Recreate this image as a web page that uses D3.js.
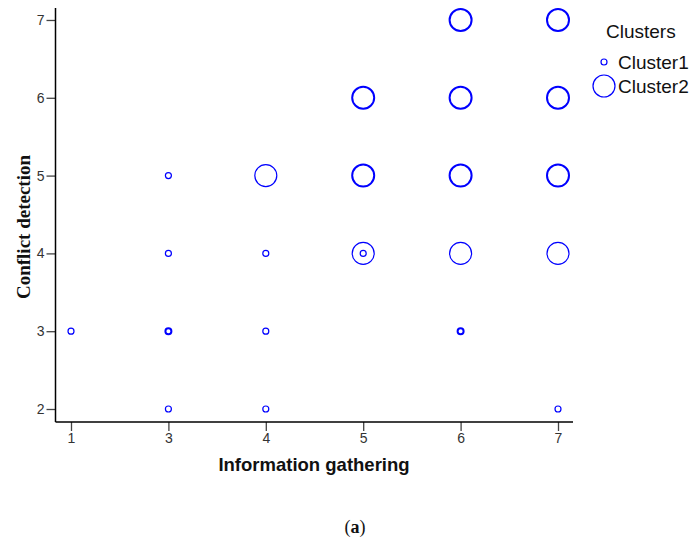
<!DOCTYPE html>
<html><head><meta charset="utf-8">
<script src="https://cdn.jsdelivr.net/npm/d3@7"></script>
<style>body{margin:0;background:#fff}</style>
</head><body>
<svg id="c" width="694" height="546"></svg>
<script>
const xCategories = ["1","3","4","5","6","7"];
const yTicks = [2,3,4,5,6,7];
const clusterNames = ["Cluster1","Cluster2"];
// points: x category, y value, count of overlapping observations
const cluster1X = ["1","3","3","3","3","4","4","4","5","6","7"];
const cluster1Y = [3,5,4,3,2,4,3,2,4,3,2];
const cluster1N = [1,1,1,2,1,1,1,1,1,2,1];
const cluster2X = ["4","5","5","5","6","6","6","6","7","7","7","7"];
const cluster2Y = [5,6,5,4,7,6,5,4,7,6,5,4];
const cluster2N = [1,2,2,1,2,2,2,1,2,2,2,1];

const svg = d3.select("#c");
const x = d3.scalePoint().domain(xCategories).range([71,558]);
const y = d3.scaleLinear().domain([1.833,7.154]).range([422,8]);
const r = d3.scaleOrdinal().domain(clusterNames).range([3,11]);
const sw = d3.scaleLinear().domain([1,2]).range([1.2,2]);
const sans = "Arial, 'Liberation Sans', sans-serif";
const serif = "'Liberation Serif','Times New Roman',serif";

// axes
const xAx = svg.append("g").attr("transform","translate(0,422)")
  .call(d3.axisBottom(x).tickSize(9).tickPadding(2));
xAx.select(".domain").remove();
const yAx = svg.append("g").attr("transform","translate(55.5,0)")
  .call(d3.axisLeft(y).tickValues(yTicks).tickFormat(d3.format("d")).tickSize(9).tickPadding(2));
yAx.select(".domain").remove();
svg.append("line").attr("x1",55.5).attr("x2",573).attr("y1",422).attr("y2",422)
  .attr("stroke","#000").attr("stroke-width",1.5);
svg.append("line").attr("x1",55.5).attr("x2",55.5).attr("y1",8).attr("y2",422)
  .attr("stroke","#000").attr("stroke-width",1.5);
svg.selectAll(".tick text").style("font-family",sans)
  .style("font-size","14px").attr("fill","#333");
svg.selectAll(".tick line").attr("stroke","#444").attr("stroke-width",1.3);

function drawCluster(xs, ys, ns, name){
  svg.append("g").selectAll("circle").data(xs.map((d,i)=>({x:d,y:ys[i],n:ns[i]})))
    .join("circle")
    .attr("cx",d=>x(d.x)).attr("cy",d=>y(d.y)).attr("r",r(name))
    .attr("fill","none").attr("stroke","#0000ff").attr("stroke-width",d=>sw(d.n));
}
drawCluster(cluster2X, cluster2Y, cluster2N, "Cluster2");
drawCluster(cluster1X, cluster1Y, cluster1N, "Cluster1");

// axis titles
svg.append("text").attr("x",314).attr("y",471).attr("text-anchor","middle")
  .attr("font-family",sans).attr("font-weight","bold")
  .attr("font-size",18.5).attr("fill","#111").text("Information gathering");
svg.append("text").attr("transform","translate(30,227) rotate(-90)").attr("text-anchor","middle")
  .attr("font-family",serif).attr("font-weight","bold")
  .attr("font-size",19).attr("fill","#111").text("Conflict detection");

// legend
svg.append("text").attr("x",606).attr("y",38)
  .attr("font-family",sans).attr("font-size",19).attr("fill","#111").text("Clusters");
clusterNames.forEach((nm,i)=>{
  const cy = 62 + i*24;
  svg.append("circle").attr("cx",604).attr("cy",cy).attr("r",r(nm))
    .attr("fill","none").attr("stroke","#0000ff").attr("stroke-width",1.2);
  svg.append("text").attr("x",618).attr("y",cy+7)
    .attr("font-family",sans).attr("font-size",19).attr("fill","#111").text(nm);
});

// caption
const cap = svg.append("text").attr("x",355).attr("y",533).attr("text-anchor","middle")
  .attr("font-family",serif).attr("font-size",18).attr("fill","#111");
cap.append("tspan").text("(");
cap.append("tspan").attr("font-weight","bold").text("a");
cap.append("tspan").text(")");
</script>
</body></html>
